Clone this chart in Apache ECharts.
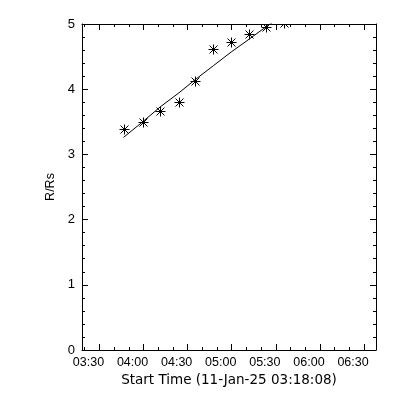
<!DOCTYPE html>
<html>
<head>
<meta charset="utf-8">
<script src="https://cdn.jsdelivr.net/npm/echarts@6/dist/echarts.min.js"></script>
<style>html,body{margin:0;padding:0;background:#fff}#c{width:400px;height:400px}</style>
</head>
<body>
<div id="c"></div>
<script>
// ---- data ----
const xTitle = "Start Time (11-Jan-25 03:18:08)";
const yTitle = "R/Rs";
const axisStart = "03:18:08";
const axisEnd = "06:38:08";
const majorTimeTicks = ["03:30","04:00","04:30","05:00","05:30","06:00","06:30"];
const minorTimeTicks = ["03:20","03:40","03:50","04:10","04:20","04:40","04:50","05:10","05:20","05:40","05:50","06:10","06:20"];
const pointTimes = ["03:47:00","03:59:25","04:11:25","04:23:50","04:35:20","04:47:30","04:59:35","05:12:00","05:23:30","05:35:40"];
const pointValues = [3.39, 3.50, 3.67, 3.81, 4.12, 4.61, 4.72, 4.85, 4.95, 5.02];
const fitTimes = ["03:46:20","03:59:25","04:11:25","04:23:50","04:35:20","04:47:30","04:59:35","05:12:00","05:23:30","05:35:40"];
const fitValues = [3.26, 3.50, 3.73, 3.94, 4.15, 4.36, 4.57, 4.77, 4.96, 5.14];
const yMin = 0, yMax = 5, yInterval = 1;

function toMin(s){const p=s.split(':').map(Number);return p[0]*60+p[1]+(p[2]||0)/60;}
function fmt(v){const h=Math.floor(v/60+1e-6),m=Math.round(v-h*60);return String(h).padStart(2,'0')+':'+String(m).padStart(2,'0');}

const xmin = toMin(axisStart), xmax = toMin(axisEnd);
const majors = majorTimeTicks.map(toMin);
const minors = minorTimeTicks.map(toMin);
const points = pointTimes.map((t,i)=>[toMin(t), pointValues[i]]);
const fit = fitTimes.map((t,i)=>[toMin(t), fitValues[i]]);

const FONT = 'Liberation Sans';
const black = '#000';

function xAx(pos, ticks, len, labels, line){
  return {
    type:'value', position:pos, min:xmin, max:xmax,
    axisLine:{show:line, onZero:false, lineStyle:{color:black,width:1}},
    axisTick:{show:true, inside:true, length:len, customValues:ticks, lineStyle:{color:black,width:1}},
    axisLabel:{show:labels, customValues:ticks, formatter:fmt, color:black, fontFamily:FONT, fontSize:12.5, margin:6, padding:[0,22,0,0]},
    splitLine:{show:false},
    name: labels ? xTitle : '', nameLocation:'middle', nameGap:16,
    nameTextStyle:{color:black, fontFamily:'DejaVu Sans', fontSize:13.5}
  };
}
function yAx(pos, labels){
  return {
    type:'value', position:pos, min:yMin, max:yMax, interval:yInterval,
    axisLine:{show:true, onZero:false, lineStyle:{color:black,width:1}},
    axisTick:{show:true, inside:true, length:6, lineStyle:{color:black,width:1}},
    minorTick:{show:true, splitNumber:5, length:3, lineStyle:{color:black,width:1}},
    axisLabel:{show:labels, color:black, fontFamily:FONT, fontSize:13, margin:7},
    splitLine:{show:false},
    name: labels ? yTitle : '', nameLocation:'middle', nameGap:25,
    nameTextStyle:{color:black, fontFamily:FONT, fontSize:12.5}
  };
}

const chart = echarts.init(document.getElementById('c'), null, {renderer:'canvas'});
chart.setOption({
  animation:false,
  backgroundColor:'#fff',
  grid:{left:82, top:24, right:24, bottom:50, containLabel:false},
  xAxis:[
    xAx('bottom', majors, 6, true, true),
    xAx('bottom', minors, 3, false, false),
    xAx('top', majors, 6, false, true),
    xAx('top', minors, 3, false, false)
  ],
  yAxis:[ yAx('left', true), yAx('right', false) ],
  series:[
    {
      type:'line', xAxisIndex:0, yAxisIndex:0, data:fit, showSymbol:false, clip:true,
      lineStyle:{color:black, width:1}, silent:true
    },
    {
      type:'custom', xAxisIndex:0, yAxisIndex:0, data:points, clip:true,
      encode:{x:0,y:1},
      renderItem:function(params, api){
        const c = api.coord([api.value(0), api.value(1)]);
        const x = Math.round(c[0])+0.5, y = Math.round(c[1])+0.5;
        const r = 5, d = 4;
        const st = {stroke:black, lineWidth:1};
        return {type:'group', children:[
          {type:'line', shape:{x1:x-r,y1:y,x2:x+r,y2:y}, style:st},
          {type:'line', shape:{x1:x,y1:y-r,x2:x,y2:y+r}, style:st},
          {type:'line', shape:{x1:x-d,y1:y-d,x2:x+d,y2:y+d}, style:st},
          {type:'line', shape:{x1:x-d,y1:y+d,x2:x+d,y2:y-d}, style:st},
          {type:'rect', shape:{x:x-1.5,y:y-1.5,width:3,height:3}, style:{fill:black}}
        ]};
      }
    }
  ]
});
</script>
</body>
</html>
